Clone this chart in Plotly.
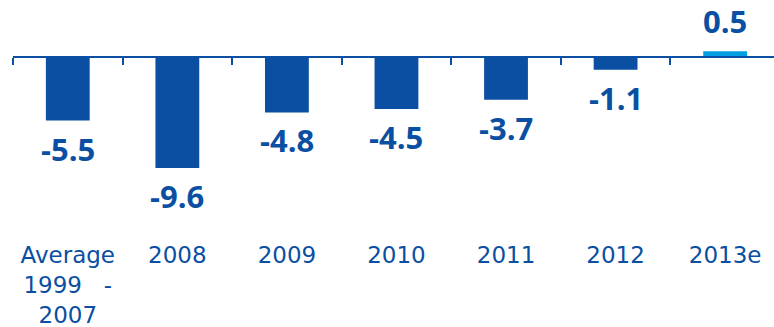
import plotly.graph_objects as go

# Budget balance, % of GDP
categories = ["Average<br>1999\u00a0\u00a0\u00a0-<br>2007", "2008", "2009", "2010", "2011", "2012", "2013e"]
values = [-5.5, -9.6, -4.8, -4.5, -3.7, -1.1, 0.5]
labels = ["-5.5", "-9.6", "-4.8", "-4.5", "-3.7", "-1.1", "0.5"]

DARK = "#0a4fa2"
LIGHT = "#009fe3"
colors = [LIGHT if v > 0 else DARK for v in values]

W, H = 774, 327
LEFT_MARGIN = 13
BOTTOM_MARGIN = 88
PLOT_H = H - BOTTOM_MARGIN
ZERO_PX = 57          # distance of the zero line from the top
PX_PER_UNIT = 11.56
y_top = ZERO_PX / PX_PER_UNIT
y_bottom = -(PLOT_H - ZERO_PX) / PX_PER_UNIT

x = list(range(len(values)))
x_range = [-0.5, 6.446]

fig = go.Figure()
fig.add_trace(go.Bar(
    x=x, y=values, width=0.4,
    marker=dict(color=colors, line=dict(width=0)),
    hoverinfo="skip",
))

# value labels just beyond the end of each bar
for xi, v, t in zip(x, values, labels):
    fig.add_annotation(
        x=xi, y=v, text=t, showarrow=False,
        xanchor="center",
        yanchor="bottom" if v > 0 else "top",
        yshift=7 if v > 0 else -5,
        font=dict(family="Open Sans", size=31, color=DARK, weight="bold"),
    )

fig.update_layout(
    width=W, height=H,
    margin=dict(l=LEFT_MARGIN, r=0, t=0, b=BOTTOM_MARGIN),
    paper_bgcolor="white", plot_bgcolor="white",
    showlegend=False,
    xaxis=dict(
        range=x_range, tickmode="array", tickvals=x, ticktext=categories,
        showgrid=False, zeroline=False, showline=False, ticks="",
        tickfont=dict(family="DejaVu Sans", size=23, color=DARK),
        automargin=False, fixedrange=True,
    ),
    # category axis line with boundary ticks, pinned at zero
    xaxis2=dict(
        overlaying="x", anchor="free", position=(PLOT_H - ZERO_PX) / PLOT_H,
        range=x_range, tickmode="array",
        tickvals=[i - 0.5 for i in range(len(values) + 1)],
        showticklabels=False, showgrid=False, zeroline=False,
        showline=True, linecolor=DARK, linewidth=2,
        ticks="outside", ticklen=7, tickwidth=2, tickcolor=DARK,
        automargin=False, fixedrange=True,
    ),
    yaxis=dict(
        range=[y_bottom, y_top], visible=False, showgrid=False,
        zeroline=False, automargin=False, fixedrange=True,
    ),
)
# an empty trace so the second axis is drawn
fig.add_trace(go.Scatter(x=[None], y=[None], xaxis="x2", yaxis="y",
                         mode="markers", hoverinfo="skip", showlegend=False))

fig.write_html("out.html")
